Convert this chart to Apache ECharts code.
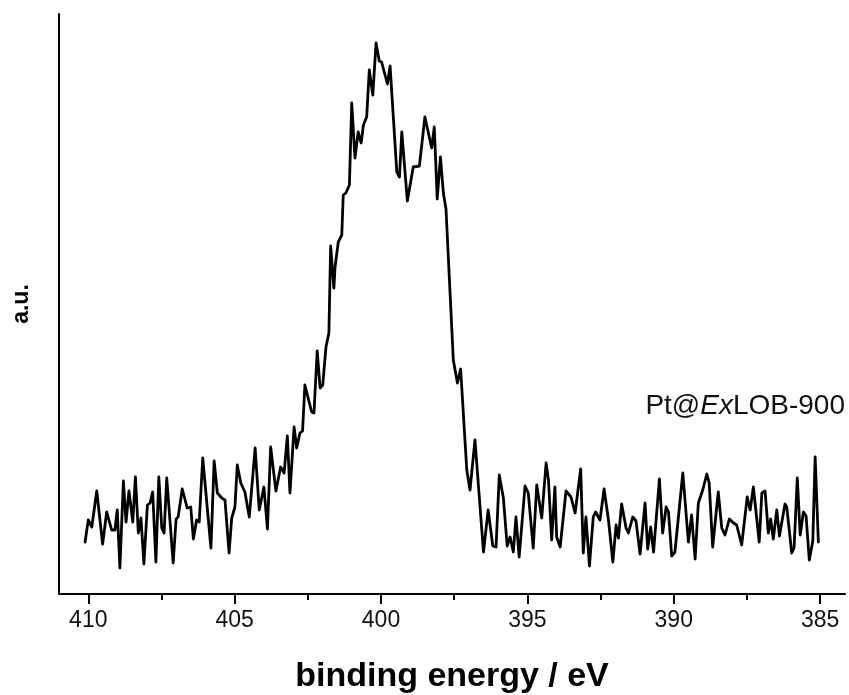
<!DOCTYPE html>
<html>
<head>
<meta charset="utf-8">
<title>Pt@ExLOB-900 N 1s</title>
<script src="https://cdn.jsdelivr.net/npm/echarts@6/dist/echarts.min.js"></script>
<style>
  html, body { margin: 0; padding: 0; background: #fff; }
  #chart { width: 849px; height: 695px; }
</style>
</head>
<body>
<div id="chart"></div>
<script>
// binding energy (eV)
const energies = [
  410.11, 410.00, 409.88, 409.71, 409.51, 409.37, 409.20, 409.09, 409.01, 408.92,
  408.80, 408.71, 408.61, 408.48, 408.39, 408.29, 408.20, 408.10, 407.98, 407.89,
  407.80, 407.69, 407.59, 407.49, 407.41, 407.32, 407.10, 407.00, 406.93, 406.79,
  406.62, 406.50, 406.41, 406.30, 406.21, 406.09, 405.81, 405.70, 405.59, 405.44,
  405.33, 405.19, 405.10, 404.99, 404.91, 404.79, 404.65, 404.50, 404.30, 404.16,
  404.00, 403.88, 403.77, 403.59, 403.43, 403.31, 403.20, 403.11, 402.97, 402.88,
  402.77, 402.68, 402.60, 402.37, 402.29, 402.18, 402.08, 401.99, 401.88, 401.78,
  401.72, 401.61, 401.57, 401.46, 401.34, 401.29, 401.20, 401.08, 401.00, 400.89,
  400.78, 400.68, 400.60, 400.49, 400.40, 400.28, 400.17, 400.06, 399.98, 399.78,
  399.69, 399.46, 399.37, 399.29, 399.10, 398.90, 398.69, 398.50, 398.27, 398.18,
  398.08, 397.97, 397.87, 397.78, 397.53, 397.39, 397.28, 397.07, 396.96, 396.79,
  396.50, 396.34, 396.28, 396.18, 396.07, 395.96, 395.82, 395.69, 395.59, 395.48,
  395.39, 395.28, 395.08, 394.97, 394.80, 394.68, 394.51, 394.36, 394.28, 394.17,
  394.06, 394.00, 393.88, 393.68, 393.51, 393.37, 393.18, 393.09, 393.00, 392.88,
  392.75, 392.67, 392.52, 392.38, 392.23, 392.08, 391.97, 391.89, 391.78, 391.63,
  391.55, 391.40, 391.29, 391.15, 390.98, 390.89, 390.79, 390.69, 390.49, 390.38,
  390.26, 390.18, 390.07, 389.96, 389.69, 389.50, 389.39, 389.27, 389.16, 389.01,
  388.87, 388.79, 388.67, 388.48, 388.36, 388.25, 388.10, 387.96, 387.85, 387.68,
  387.49, 387.39, 387.28, 387.08, 386.99, 386.88, 386.77, 386.69, 386.60, 386.48,
  386.39, 386.20, 386.14, 385.97, 385.89, 385.78, 385.68, 385.57, 385.48, 385.37,
  385.25, 385.17, 385.06
];

// intensity (a.u.)
const intensities = [
  52, 74, 67, 103, 50, 82, 64, 64, 84, 26,
  113, 72, 103, 72, 117, 61, 76, 30, 89, 91,
  102, 32, 117, 66, 61, 116, 31, 75, 77, 105,
  86, 87, 55, 74, 72, 136, 46, 133, 101, 96,
  94, 41, 76, 87, 129, 111, 102, 77, 146, 84,
  107, 65, 147, 103, 127, 121, 158, 101, 167, 146,
  161, 163, 209, 182, 181, 243, 206, 209, 247, 261,
  348, 306, 327, 352, 359, 399, 401, 409, 491, 436,
  462, 451, 469, 477, 524, 499, 551, 533, 532, 510,
  528, 422, 417, 462, 393, 427, 428, 477, 446, 467,
  395, 437, 401, 385, 234, 211, 225, 124, 104, 154,
  42, 84, 84, 48, 47, 119, 96, 48, 57, 42,
  77, 37, 108, 101, 46, 109, 76, 131, 114, 54,
  107, 57, 47, 103, 97, 81, 125, 41, 77, 28,
  77, 82, 74, 105, 74, 32, 69, 56, 90, 66,
  61, 77, 73, 40, 91, 45, 67, 42, 115, 61,
  87, 82, 38, 42, 121, 52, 79, 35, 91, 104,
  120, 111, 47, 102, 66, 59, 75, 71, 69, 49,
  97, 84, 107, 52, 101, 103, 61, 75, 55, 84,
  58, 90, 87, 41, 46, 116, 59, 82, 78, 34,
  53, 137, 52
];

const majorTicks = [410, 405, 400, 395, 390, 385];
const minorTicks = [407.5, 402.5, 397.5, 392.5, 387.5];

const font = '"Liberation Sans", Arial, sans-serif';
const chart = echarts.init(document.getElementById('chart'), null, { renderer: 'canvas' });

const option = {
  animation: false,
  backgroundColor: '#fff',
  grid: { left: 59, right: 4, top: 14, bottom: 101, outerBoundsMode: 'none' },
  xAxis: [
    {
      type: 'value',
      inverse: true,
      min: 384.15,
      max: 411,
      name: 'binding energy / eV',
      nameLocation: 'middle',
      nameGap: 66,
      nameTextStyle: { fontFamily: font, fontSize: 34, fontWeight: 'bold', color: '#000' },
      axisLine: { show: true, lineStyle: { color: '#000', width: 2 } },
      axisTick: { show: true, customValues: majorTicks, length: 10, lineStyle: { color: '#000', width: 2 } },
      axisLabel: { show: true, customValues: majorTicks, margin: 15, fontFamily: font, fontSize: 23, color: '#111' },
      splitLine: { show: false }
    },
    {
      // minor ticks only
      type: 'value',
      inverse: true,
      min: 384.15,
      max: 411,
      position: 'bottom',
      axisLine: { show: false },
      axisTick: { show: true, customValues: minorTicks, length: 6, lineStyle: { color: '#000', width: 2 } },
      axisLabel: { show: false },
      splitLine: { show: false }
    }
  ],
  yAxis: {
    type: 'value',
    min: 0,
    max: 580,
    name: 'a.u.',
    nameLocation: 'middle',
    nameRotate: 90,
    nameGap: 26,
    nameTextStyle: { fontFamily: font, fontSize: 23, fontWeight: 'bold', color: '#000' },
    axisLine: { show: true, lineStyle: { color: '#000', width: 2 } },
    axisTick: { show: false },
    axisLabel: { show: false },
    splitLine: { show: false }
  },
  graphic: [
    {
      type: 'text',
      right: 4,
      top: 392,
      style: {
        text: '{n|Pt@}{i|Ex}{n|LOB-900}',
        rich: {
          n: { fontFamily: font, fontSize: 28, fill: '#111' },
          i: { fontFamily: font, fontSize: 28, fontStyle: 'italic', fill: '#111' }
        }
      }
    }
  ],
  series: [
    {
      type: 'line',
      xAxisIndex: 0,
      showSymbol: false,
      data: energies.map((e, i) => [e, intensities[i]]),
      lineStyle: { color: '#000', width: 2.8, join: 'round', cap: 'round' }
    }
  ]
};

chart.setOption(option);
</script>
</body>
</html>
